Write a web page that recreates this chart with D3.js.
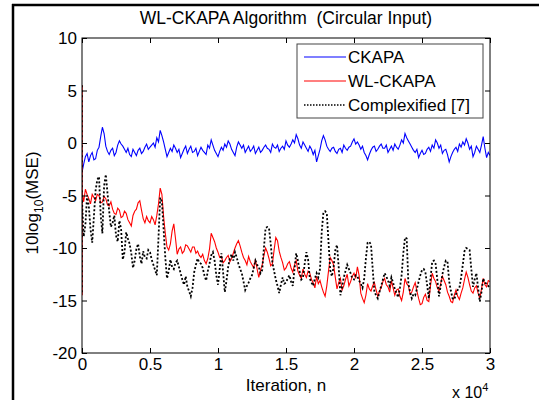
<!DOCTYPE html>
<html>
<head>
<meta charset="utf-8">
<script src="https://cdn.jsdelivr.net/npm/d3@7"></script>
<style>
  html, body { margin: 0; padding: 0; background: #fff; }
  svg { display: block; }
  text { font-family: "Liberation Sans", Arial, sans-serif; fill: #000; white-space: pre; }
</style>
</head>
<body>
<svg id="chart" width="539" height="400"></svg>
<script>
// ---- data ----
const title = "WL-CKAPA Algorithm  (Circular Input)";
const xLabel = "Iteration, n";
const yTicks = [10, 5, 0, -5, -10, -15, -20];
const xTicks = [0, 5000, 10000, 15000, 20000, 25000, 30000];
const xTickLabels = ["0", "0.5", "1", "1.5", "2", "2.5", "3"];
const seriesNames = ["CKAPA", "WL-CKAPA", "Complexified [7]"];

// iteration index of each sample (every 125 iterations)
const iterations = d3.range(0, 30001, 125);

const ckapa = [
  -2.8,-2.0,-1.3,-1.0,-1.8,-1.2,-0.9,-1.6,-1.5,-0.7,
  -0.4,0.6,1.5,0.9,-0.3,-0.8,-1.1,-0.7,-0.5,-1.2,
  -0.9,-0.2,0.2,-0.1,-0.3,-0.6,-0.9,-0.5,-1.1,-1.3,
  -0.6,-0.9,-1.2,-0.7,-0.5,-1.0,-0.8,-0.4,-0.1,-0.6,
  -0.4,-0.2,0.0,-0.4,0.5,0.1,1.2,0.7,0.1,-0.6,
  -1.3,-0.9,-0.5,-0.8,-0.2,-0.5,-0.9,-0.6,-1.4,-1.0,
  -0.6,-0.3,-1.0,-0.6,-0.3,-0.9,-0.8,-0.5,-1.2,-0.8,
  -0.4,-0.7,-0.9,-1.1,-0.2,-0.5,0.3,-0.2,-0.7,-1.0,
  -1.3,-0.8,-0.4,-0.7,-0.1,-0.4,0.2,-0.1,-0.6,-0.9,
  -1.2,-0.4,0.1,-0.2,-0.5,-0.2,-0.9,-0.6,-0.3,-0.8,
  -0.6,-0.3,-1.0,-0.7,-0.4,-0.9,-0.7,-0.4,-0.2,-0.5,
  -0.6,-0.9,-0.1,-0.4,-0.5,-0.2,-0.8,-0.5,-0.3,-0.6,
  0.2,-0.2,-0.4,-0.1,0.3,0.0,0.8,0.4,-0.2,-0.5,
  0.1,-0.2,-0.5,-0.8,-0.3,-0.6,-1.1,-0.7,-1.8,-1.2,
  -0.6,0.2,0.7,0.3,-0.3,-0.6,-0.8,-0.5,-0.4,-0.8,
  -1.0,-0.6,-0.5,-0.9,-0.2,-0.5,-0.7,-0.4,-0.3,0.1,
  0.4,-0.1,0.1,-0.2,-0.6,-0.3,-0.9,-1.2,-1.6,-1.1,
  -0.7,-0.4,-0.3,-0.8,-0.6,-0.3,-0.1,-0.5,-0.5,-0.2,
  -0.9,-0.6,-0.3,-0.7,-0.1,-0.4,-0.6,-0.2,0.3,0.0,
  0.9,0.5,0.2,-0.1,-0.4,-0.7,-0.9,-0.6,-1.4,-1.0,
  -0.7,-1.1,-1.0,-0.6,-0.4,-0.8,-0.2,-0.5,0.3,0.0,
  -0.5,-0.2,-1.0,-0.7,-0.6,-1.1,-1.8,-1.3,-0.9,-0.6,
  -0.4,-0.8,-0.1,-0.4,0.1,-0.2,0.4,0.0,-0.6,-0.3,
  -1.3,-0.9,-0.3,-0.6,-0.9,-0.2,0.6,-0.5,-1.4,-0.9,
  -1.2
];

const wlckapa = [
  -4.6,-5.6,-4.4,-4.9,-5.3,-5.8,-4.9,-5.2,-5.5,-4.9,
  -5.0,-5.7,-5.6,-5.1,-5.3,-5.9,-6.0,-5.6,-6.3,-6.7,
  -6.8,-6.2,-6.4,-7.1,-7.0,-6.5,-6.7,-7.3,-7.6,-7.9,
  -6.9,-6.5,-6.3,-5.7,-5.5,-6.4,-7.2,-7.6,-7.0,-7.4,
  -7.6,-7.0,-7.3,-7.8,-6.9,-5.8,-4.3,-4.9,-7.0,-8.6,
  -9.9,-10.2,-9.6,-8.4,-7.7,-9.1,-10.6,-10.1,-9.9,-10.5,
  -10.3,-9.7,-9.8,-10.1,-10.4,-9.9,-9.9,-10.5,-10.3,-10.7,
  -10.9,-10.6,-11.2,-11.5,-11.0,-10.1,-8.6,-9.0,-9.4,-10.0,
  -10.4,-10.9,-10.8,-11.4,-11.2,-10.9,-10.7,-11.3,-11.0,-10.5,
  -10.0,-9.6,-9.3,-9.8,-10.4,-10.9,-11.2,-11.6,-10.8,-11.3,
  -11.6,-11.9,-11.1,-12.0,-12.8,-12.1,-11.6,-10.7,-10.0,-10.4,
  -11.0,-11.7,-11.5,-10.2,-9.0,-9.3,-10.3,-10.9,-11.4,-12.1,
  -11.9,-11.5,-11.3,-11.9,-12.3,-11.6,-11.2,-12.2,-12.6,-12.9,
  -12.0,-12.5,-12.8,-12.2,-12.4,-13.0,-13.3,-13.8,-12.7,-13.4,
  -13.1,-13.7,-14.2,-14.6,-13.6,-12.2,-10.9,-11.2,-11.6,-12.8,
  -13.9,-13.3,-12.9,-14.0,-13.6,-13.0,-12.5,-13.6,-13.2,-12.7,
  -12.4,-12.9,-11.8,-12.6,-14.3,-14.8,-15.2,-14.5,-13.4,-13.9,
  -14.1,-13.6,-13.3,-14.0,-14.6,-14.1,-13.8,-13.2,-12.9,-13.5,
  -13.7,-14.2,-13.1,-13.8,-14.5,-14.0,-13.9,-14.6,-15.0,-14.2,
  -12.9,-13.4,-13.6,-14.4,-14.2,-13.7,-13.3,-14.1,-14.8,-15.4,
  -15.3,-14.7,-14.4,-15.0,-15.1,-13.6,-12.4,-12.9,-13.2,-13.8,
  -14.1,-13.4,-12.7,-13.1,-13.5,-14.2,-14.6,-15.1,-15.2,-14.5,
  -14.0,-14.6,-14.9,-14.3,-13.8,-13.0,-12.3,-12.8,-13.5,-14.1,
  -14.3,-13.8,-13.6,-14.3,-14.8,-13.9,-12.9,-13.5,-13.7,-13.1,
  -13.2
];

const complexified = [
  -5.5,-8.9,-7.8,-5.0,-6.0,-8.2,-9.5,-7.0,-4.5,-3.5,
  -3.2,-6.9,-8.6,-4.1,-3.0,-4.8,-6.5,-8.0,-7.6,-6.9,
  -8.8,-9.4,-7.4,-8.2,-11.1,-10.4,-8.5,-9.1,-9.6,-10.5,
  -11.9,-11.2,-10.1,-9.6,-10.8,-11.5,-10.3,-10.9,-11.0,-10.2,
  -10.4,-11.1,-11.6,-12.1,-12.6,-9.0,-5.2,-5.6,-8.2,-10.9,
  -12.9,-12.2,-11.1,-11.8,-12.0,-11.4,-11.2,-11.8,-12.4,-13.0,
  -13.5,-12.7,-13.7,-14.1,-14.6,-13.8,-12.3,-11.6,-11.0,-11.4,
  -11.5,-11.9,-12.6,-13.1,-12.2,-11.5,-10.7,-10.4,-11.2,-12.6,
  -13.5,-12.0,-10.5,-12.3,-14.2,-13.1,-11.8,-11.0,-10.6,-11.2,
  -10.4,-10.9,-11.5,-12.0,-12.4,-13.2,-14.0,-13.6,-13.3,-12.9,
  -12.6,-11.9,-11.2,-11.6,-11.8,-12.4,-12.1,-10.0,-8.1,-8.0,
  -8.1,-9.6,-11.4,-12.2,-13.0,-13.6,-14.3,-13.5,-12.8,-13.4,
  -13.3,-12.9,-12.6,-13.2,-13.6,-12.0,-10.5,-11.2,-12.2,-13.0,
  -12.8,-11.5,-10.4,-11.1,-12.9,-13.3,-13.6,-12.9,-12.4,-12.8,
  -12.0,-8.5,-6.6,-6.5,-6.7,-9.4,-12.1,-12.7,-11.8,-10.2,
  -9.7,-11.8,-14.5,-13.7,-12.8,-12.2,-11.6,-12.0,-12.4,-12.9,
  -13.0,-12.6,-12.7,-13.1,-13.4,-13.8,-12.9,-11.0,-9.5,-9.4,
  -9.7,-12.0,-14.2,-14.5,-14.8,-14.2,-13.6,-13.0,-12.4,-12.7,
  -13.1,-13.6,-12.8,-13.3,-13.9,-14.3,-14.7,-13.8,-12.6,-10.5,
  -9.0,-9.1,-13.4,-14.2,-14.8,-14.4,-14.5,-13.9,-13.2,-12.6,
  -12.1,-12.0,-12.3,-13.5,-14.8,-12.9,-11.3,-11.2,-11.5,-13.0,
  -14.6,-13.6,-12.5,-11.8,-11.2,-11.3,-13.2,-14.1,-14.8,-14.9,
  -14.4,-14.0,-13.8,-12.8,-11.6,-10.3,-10.0,-10.1,-10.2,-12.0,
  -13.7,-13.0,-12.4,-13.8,-15.1,-14.2,-12.9,-13.3,-13.4,-13.6,
  -13.9
];

// initial transient at n = 0 (drawn as the vertical red/black segment)
const transientIter = [0, 0];
const transientValues = [5.5, -14.5];

// ---- drawing ----
(function () {
const svg = d3.select("#chart");
const mLeft = 82, mRight = 490, mTop = 38, mBottom = 353;
const FS = "17px";

const x = d3.scaleLinear().domain([0, 30000]).range([mLeft, mRight]);
const y = d3.scaleLinear().domain([-20, 10]).range([mBottom, mTop]);

// figure border (partly visible)
svg.append("line").attr("x1", 13).attr("x2", 13).attr("y1", 4).attr("y2", 400)
  .attr("stroke", "#000").attr("stroke-width", 2.5);
svg.append("line").attr("x1", 12).attr("x2", 539).attr("y1", 5).attr("y2", 5)
  .attr("stroke", "#000").attr("stroke-width", 2.5);

const line = d3.line().x(d => x(d[0])).y(d => y(d[1]));
svg.append("clipPath").attr("id", "clip").append("rect")
  .attr("x", mLeft).attr("y", mTop).attr("width", mRight - mLeft).attr("height", mBottom - mTop);
const plot = svg.append("g").attr("clip-path", "url(#clip)");

const pts = vals => iterations.map((n, i) => [n, vals[i]]);
const trans = transientIter.map((n, i) => [n, transientValues[i]]);

plot.append("path").datum(pts(ckapa)).attr("d", line)
  .attr("fill", "none").attr("stroke", "#0000ff").attr("stroke-width", 1.1);
plot.append("path").datum(pts(wlckapa)).attr("d", line)
  .attr("fill", "none").attr("stroke", "#ff0000").attr("stroke-width", 1.1);
plot.append("path").datum(trans).attr("d", line)
  .attr("fill", "none").attr("stroke", "#ff0000").attr("stroke-width", 1.5);
plot.append("path").datum(pts(complexified)).attr("d", line)
  .attr("fill", "none").attr("stroke", "#000").attr("stroke-width", 1.8)
  .attr("stroke-dasharray", "2,2");
plot.append("path").datum(trans).attr("d", line)
  .attr("fill", "none").attr("stroke", "#000").attr("stroke-width", 1.5)
  .attr("stroke-dasharray", "2,3");

// axes with inward ticks
const fmtX = d => xTickLabels[xTicks.indexOf(d)];
const fmtY = d => String(d);
const gB = svg.append("g").attr("transform", `translate(0,${mBottom})`)
  .call(d3.axisBottom(x).tickValues(xTicks).tickFormat(fmtX).tickSizeInner(-5).tickSizeOuter(0).tickPadding(5));
const gT = svg.append("g").attr("transform", `translate(0,${mTop})`)
  .call(d3.axisTop(x).tickValues(xTicks).tickFormat("").tickSizeInner(-5).tickSizeOuter(0));
const gL = svg.append("g").attr("transform", `translate(${mLeft},0)`)
  .call(d3.axisLeft(y).tickValues(yTicks).tickFormat(fmtY).tickSizeInner(-5).tickSizeOuter(0).tickPadding(5));
const gR = svg.append("g").attr("transform", `translate(${mRight},0)`)
  .call(d3.axisRight(y).tickValues(yTicks).tickFormat("").tickSizeInner(-5).tickSizeOuter(0));
[gB, gT, gL, gR].forEach(g => {
  g.select(".domain").remove();
  g.selectAll("line").attr("stroke", "#000");
  g.selectAll("text").style("font-family", '"Liberation Sans", Arial, sans-serif')
    .style("font-size", FS).attr("fill", "#000");
});
gL.selectAll("text").attr("dy", "0.35em");

svg.append("rect").attr("x", mLeft).attr("y", mTop)
  .attr("width", mRight - mLeft).attr("height", mBottom - mTop)
  .attr("fill", "none").attr("stroke", "#000").attr("stroke-width", 1);

// title & labels
svg.append("text").attr("x", 286).attr("y", 24)
  .attr("text-anchor", "middle").style("font-size", "17.5px").text(title);
svg.append("text").attr("x", 286).attr("y", 391)
  .attr("text-anchor", "middle").style("font-size", FS).text(xLabel);
const sci = svg.append("text").attr("x", 452).attr("y", 398).style("font-size", "16px");
sci.append("tspan").text("x 10");
sci.append("tspan").attr("dy", -7).style("font-size", "11px").text("4");

const yl = svg.append("text")
  .attr("transform", `translate(38,${203}) rotate(-90)`)
  .attr("text-anchor", "middle").style("font-size", FS);
yl.append("tspan").text("10log");
yl.append("tspan").attr("dy", 5).style("font-size", "12px").text("10");
yl.append("tspan").attr("dy", -5).text("(MSE)");

// legend
const lg = svg.append("g");
lg.append("rect").attr("x", 297).attr("y", 44).attr("width", 186).attr("height", 74)
  .attr("fill", "#fff").attr("stroke", "#444").attr("stroke-width", 1);
const legendStyles = [
  { color: "#0000ff", width: 1.1, dash: null },
  { color: "#ff0000", width: 1.1, dash: null },
  { color: "#000", width: 1.4, dash: "1.5,1.5" }
];
seriesNames.forEach((name, i) => {
  const yy = 57 + i * 24;
  const s = legendStyles[i];
  const l = lg.append("line").attr("x1", 304).attr("x2", 346).attr("y1", yy).attr("y2", yy)
    .attr("stroke", s.color).attr("stroke-width", s.width);
  if (s.dash) l.attr("stroke-dasharray", s.dash);
  lg.append("text").attr("x", 348).attr("y", yy).attr("dy", "0.35em")
    .style("font-size", FS).text(name);
});
})();
</script>
</body>
</html>
